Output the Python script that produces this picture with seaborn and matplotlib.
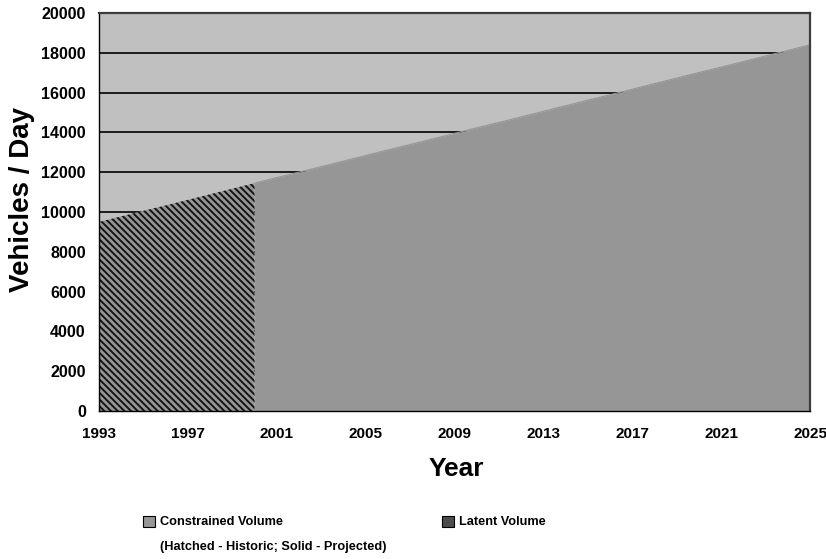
import matplotlib
matplotlib.use("Agg")
import matplotlib.pyplot as plt
import seaborn as sns
import pandas as pd
from matplotlib.patches import Patch

# Daily traffic volume, historic counts through 2000 then projected to 2025
years = list(range(1993, 2026))
constrained_volume = [9500, 9780, 10060, 10330, 10610, 10890, 11170, 11450,
                      11730, 12000, 12280, 12560, 12840, 13120, 13390, 13670,
                      13950, 14230, 14500, 14780, 15060, 15340, 15620, 15890,
                      16170, 16450, 16730, 17010, 17280, 17560, 17840, 18120,
                      18400]
last_historic_year = 2000

x_ticks = list(range(1993, 2026, 4))
y_ticks = list(range(0, 20001, 2000))
series_labels = ["Constrained Volume", "Latent Volume"]
legend_note = "(Hatched - Historic; Solid - Projected)"

sns.set_style("white")
plt.rcParams["font.family"] = ["Liberation Sans", "DejaVu Sans"]
plt.rcParams["text.color"] = "black"
plt.rcParams["xtick.color"] = "black"
plt.rcParams["ytick.color"] = "black"
plt.rcParams["axes.labelcolor"] = "black"
plt.rcParams["hatch.linewidth"] = 1.4
plt.rcParams["hatch.color"] = "#141414"

AREA = "#969696"
LATENT = "#4d4d4d"

df = pd.DataFrame({"Year": years, "Volume": constrained_volume})
historic = df[df["Year"] <= last_historic_year]
projected = df[df["Year"] >= last_historic_year]

fig = plt.figure(figsize=(8.26, 5.59), dpi=100)
ax = fig.add_axes([99 / 826, 1 - 411 / 559, 711 / 826, 398 / 559])
ax.set_facecolor("#c0c0c0")

# horizontal gridlines sit behind the filled area
for v in y_ticks[1:-1]:
    ax.axhline(v, color="black", lw=1.2, zorder=1)

ax.fill_between(projected["Year"], 0, projected["Volume"],
                facecolor=AREA, lw=0, zorder=2)
ax.fill_between(historic["Year"], 0, historic["Volume"],
                facecolor=AREA, edgecolor="#141414", hatch="\\" * 5,
                lw=0, zorder=2)
sns.lineplot(data=projected, x="Year", y="Volume", color=AREA, lw=0.8,
             ax=ax, zorder=3, legend=False)

ax.set_xlim(years[0], years[-1])
ax.set_ylim(y_ticks[0], y_ticks[-1])
ax.set_xticks(x_ticks)
ax.set_yticks(y_ticks)
ax.tick_params(axis="both", direction="out", length=5, width=1,
               color="black", labelcolor="black")
ax.tick_params(axis="x", pad=6.5, labelsize=11)
ax.tick_params(axis="y", pad=4.5, labelsize=11.6)
for lab in ax.get_xticklabels() + ax.get_yticklabels():
    lab.set_fontweight("bold")
ax.set_xlabel("")
ax.set_ylabel("")

for side in ("left", "bottom"):
    ax.spines[side].set_color("black")
    ax.spines[side].set_linewidth(1.0)
for side in ("top", "right"):
    ax.spines[side].set_color("#3c3c3c")
    ax.spines[side].set_linewidth(1.6)
for s in ax.spines.values():
    s.set_zorder(5)

fig.text(22 / 826, 1 - 200 / 559, "Vehicles / Day", rotation=90,
         ha="center", va="center", fontsize=20, fontweight="bold",
         color="black")
fig.text(456 / 826, 1 - 469 / 559, "Year", ha="center", va="center",
         fontsize=19, fontweight="bold", color="black")

legend_kw = dict(loc="center left", frameon=False, borderpad=0,
                 borderaxespad=0, handlelength=0.95, handleheight=0.95,
                 handletextpad=0.35, labelcolor="black",
                 prop={"weight": "bold", "size": 9.2})
fig.legend(handles=[Patch(facecolor=AREA, edgecolor="black", lw=0.8,
                          label=series_labels[0])],
           bbox_to_anchor=(143 / 826, 1 - 522 / 559), **legend_kw)
fig.legend(handles=[Patch(facecolor=LATENT, edgecolor="black", lw=0.8,
                          label=series_labels[1])],
           bbox_to_anchor=(442 / 826, 1 - 522 / 559), **legend_kw)
fig.text(160 / 826, 1 - 547 / 559, legend_note, ha="left", va="center",
         fontsize=9.2, fontweight="bold", color="black")

fig.savefig("out.png", dpi=100)
